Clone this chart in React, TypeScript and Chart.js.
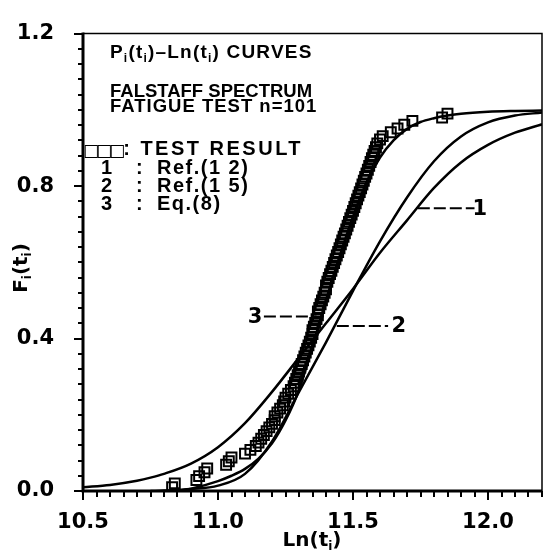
import React, { useEffect, useRef } from 'react';
import { Chart, registerables } from 'chart.js';

Chart.register(...registerables);

// ---- data ----
const testX = [
  10.83, 10.84, 10.92, 10.93, 10.95, 10.96, 11.03, 11.04, 11.05, 11.10,
  11.12, 11.14, 11.15, 11.16, 11.17, 11.18, 11.19, 11.20, 11.21, 11.21,
  11.22, 11.23, 11.24, 11.245, 11.25, 11.26, 11.27, 11.28, 11.285, 11.29,
  11.295, 11.30, 11.305, 11.31, 11.315, 11.32, 11.325, 11.33, 11.335, 11.34,
  11.345, 11.35, 11.35, 11.355, 11.36, 11.365, 11.37, 11.37, 11.375, 11.38,
  11.385, 11.39, 11.395, 11.40, 11.40, 11.405, 11.41, 11.415, 11.42, 11.425,
  11.43, 11.435, 11.44, 11.445, 11.45, 11.455, 11.46, 11.465, 11.47, 11.475,
  11.48, 11.485, 11.49, 11.495, 11.50, 11.505, 11.51, 11.515, 11.52, 11.525,
  11.53, 11.535, 11.54, 11.545, 11.55, 11.555, 11.56, 11.565, 11.57, 11.575,
  11.58, 11.585, 11.59, 11.60, 11.61, 11.64, 11.665, 11.69, 11.72, 11.83, 11.85,
];
const testY = [
  0.010, 0.020, 0.029, 0.039, 0.049, 0.059, 0.069, 0.078, 0.088, 0.098,
  0.108, 0.118, 0.127, 0.137, 0.147, 0.157, 0.167, 0.176, 0.186, 0.196,
  0.206, 0.216, 0.225, 0.235, 0.245, 0.255, 0.265, 0.275, 0.284, 0.294,
  0.304, 0.314, 0.324, 0.333, 0.343, 0.353, 0.363, 0.373, 0.382, 0.392,
  0.402, 0.412, 0.422, 0.431, 0.441, 0.451, 0.461, 0.471, 0.480, 0.490,
  0.500, 0.510, 0.520, 0.529, 0.539, 0.549, 0.559, 0.569, 0.578, 0.588,
  0.598, 0.608, 0.618, 0.627, 0.637, 0.647, 0.657, 0.667, 0.676, 0.686,
  0.696, 0.706, 0.716, 0.725, 0.735, 0.745, 0.755, 0.765, 0.775, 0.784,
  0.794, 0.804, 0.814, 0.824, 0.833, 0.843, 0.853, 0.863, 0.873, 0.882,
  0.892, 0.902, 0.912, 0.922, 0.931, 0.941, 0.951, 0.961, 0.971, 0.980, 0.990,
];

// curve 1 : Ref.(12)
const curve1X = [10.5, 10.6, 10.7, 10.75, 10.8, 10.9, 11.0, 11.1, 11.2, 11.3, 11.4, 11.5, 11.6, 11.7, 11.8, 11.9, 12.0, 12.1, 12.2];
const curve1Y = [0.010, 0.016, 0.027, 0.035, 0.045, 0.072, 0.115, 0.178, 0.26, 0.35, 0.44, 0.53, 0.625, 0.71, 0.795, 0.862, 0.908, 0.94, 0.962];
// curve 2 : Ref.(15)
const curve2X = [10.75, 10.8, 10.9, 11.0, 11.1, 11.2, 11.3, 11.4, 11.5, 11.6, 11.7, 11.8, 11.9, 12.0, 12.1, 12.2];
const curve2Y = [0.0, 0.001, 0.005, 0.014, 0.045, 0.13, 0.26, 0.39, 0.525, 0.655, 0.77, 0.865, 0.93, 0.967, 0.985, 0.993];
// curve 3 : Eq.(8)
const curve3X = [10.85, 10.9, 11.0, 11.05, 11.1, 11.15, 11.2, 11.25, 11.3, 11.35, 11.4, 11.45, 11.5, 11.55, 11.6, 11.65, 11.7, 11.75, 11.8, 11.85, 11.9, 12.0, 12.1, 12.2];
const curve3Y = [0.0, 0.006, 0.026, 0.04, 0.058, 0.085, 0.125, 0.185, 0.265, 0.38, 0.5, 0.615, 0.72, 0.81, 0.875, 0.92, 0.95, 0.968, 0.978, 0.985, 0.99, 0.995, 0.997, 0.998];

const xTickValues = [10.5, 11.0, 11.5, 12.0];
const xTickLabels = ['10.5', '11.0', '11.5', '12.0'];
const yTickValues = [0.0, 0.4, 0.8, 1.2];
const yTickLabels = ['0.0', '0.4', '0.8', '1.2'];

// curve call-out labels ("---1" etc.), in data units
const calloutText = ['1', '2', '3'];
const calloutY = [0.742, 0.433, 0.458];
const calloutFrom = [11.74, 11.44, 11.17];
const calloutTo = [11.95, 11.63, 11.365];
const calloutTextX = [11.97, 11.67, 11.137];

const noteTitle = ['P', 'i', '(t', 'i', ')\u2013Ln(t', 'i', ') CURVES'];
const noteLines = ['FALSTAFF SPECTRUM', 'FATIGUE TEST n=101'];
const legendSymbol = '\u25A1\u25A1\u25A1';
const legendText = ': TEST RESULT';
const legendKeys = ['1', '2', '3'];
const legendRefs = ['Ref.(1 2)', 'Ref.(1 5)', 'Eq.(8)'];
const xTitle = ['Ln(t', 'i', ')'];
const yTitle = ['F', 'i', '(t', 'i', ')'];

function labelFor(v: number, vals: number[], labels: string[]) {
  const i = vals.findIndex((t) => Math.abs(t - v) < 1e-6);
  return i >= 0 ? labels[i] : '';
}

function drawRich(ctx: any, parts: string[], x: number, y: number, size: number, family: string, weight: string, align: 'left' | 'center', spacing = 0) {
  const main = `${weight} ${size}px ${family}`;
  const sub = `${weight} ${Math.round(size * 0.62)}px ${family}`;
  ctx.letterSpacing = `${spacing}px`;
  const widths = parts.map((p, i) => {
    ctx.font = i % 2 === 1 ? sub : main;
    return ctx.measureText(p).width;
  });
  const total = widths.reduce((a, b) => a + b, 0);
  let cx = align === 'center' ? x - total / 2 : x;
  ctx.textAlign = 'left';
  ctx.textBaseline = 'alphabetic';
  parts.forEach((p, i) => {
    const isSub = i % 2 === 1;
    ctx.font = isSub ? sub : main;
    ctx.fillText(p, cx, isSub ? y + size * 0.22 : y);
    cx += widths[i];
  });
  ctx.letterSpacing = '0px';
}

const decor = {
  id: 'decor',
  afterDatasetsDraw(chart: any) {
    const { ctx, chartArea: a, scales } = chart;
    const xs = scales.x;
    const ys = scales.y;
    ctx.save();
    ctx.strokeStyle = '#000';
    ctx.fillStyle = '#000';
    // frame
    ctx.lineWidth = 1.5;
    ctx.beginPath();
    ctx.moveTo(a.left, a.top);
    ctx.lineTo(a.right, a.top);
    ctx.lineTo(a.right, a.bottom);
    ctx.stroke();
    ctx.lineWidth = 3;
    ctx.beginPath();
    ctx.moveTo(a.left, a.top - 1);
    ctx.lineTo(a.left, a.bottom);
    ctx.lineTo(a.right, a.bottom);
    ctx.stroke();
    // ticks
    ctx.lineWidth = 2;
    ys.ticks.forEach((t: any) => {
      const py = Math.round(ys.getPixelForValue(t.value));
      const major = labelFor(t.value, yTickValues, yTickLabels) !== '';
      ctx.beginPath();
      ctx.moveTo(a.left - (major ? 9 : 5), py);
      ctx.lineTo(a.left, py);
      ctx.stroke();
    });
    xs.ticks.forEach((t: any) => {
      const px = Math.round(xs.getPixelForValue(t.value));
      const major = labelFor(t.value, xTickValues, xTickLabels) !== '';
      ctx.beginPath();
      ctx.moveTo(px, a.bottom);
      ctx.lineTo(px, a.bottom + (major ? 9 : 6));
      ctx.stroke();
    });
    // call-out numbers
    ctx.font = 'bold 21px "DejaVu Sans"';
    ctx.textAlign = 'center';
    ctx.textBaseline = 'middle';
    calloutText.forEach((s, i) => {
      ctx.fillText(s, xs.getPixelForValue(calloutTextX[i]), ys.getPixelForValue(calloutY[i]) + 1);
    });
    // notes
    const fam = '"Liberation Sans"';
    drawRich(ctx, noteTitle, 110, 58, 19, fam, 'bold', 'left', 1.2);
    ctx.textAlign = 'left';
    ctx.textBaseline = 'alphabetic';
    ctx.font = `bold 18.5px ${fam}`;
    ctx.fillText(noteLines[0], 110, 97);
    ctx.letterSpacing = '1px';
    ctx.fillText(noteLines[1], 110, 112);
    ctx.letterSpacing = '0px';
    ctx.font = 'bold 17px "DejaVu Sans"';
    ctx.letterSpacing = '-3px';
    const symW = ctx.measureText(legendSymbol).width;
    ctx.fillText(legendSymbol, 83, 156);
    ctx.letterSpacing = '0px';
    ctx.font = `bold 20px ${fam}`;
    ctx.letterSpacing = '2.5px';
    ctx.fillText(legendText, Math.max(117, 83 + symW + 1), 155);
    ctx.letterSpacing = '0px';
    const rowY = [174, 192, 210];
    legendKeys.forEach((k, i) => {
      ctx.font = `bold 20px ${fam}`;
      ctx.fillText(k, 101, rowY[i]);
      ctx.fillText(':', 136, rowY[i]);
      ctx.letterSpacing = '1.5px';
      ctx.fillText(legendRefs[i], 157, rowY[i]);
      ctx.letterSpacing = '0px';
    });
    // axis titles
    drawRich(ctx, xTitle, 312, 546, 20, '"DejaVu Sans"', 'bold', 'center');
    ctx.save();
    ctx.translate(27, 268);
    ctx.rotate(-Math.PI / 2);
    drawRich(ctx, yTitle, 0, 0, 20, '"DejaVu Sans"', 'bold', 'center');
    ctx.restore();
    ctx.restore();
  },
};

const toPts = (xs: number[], ys: number[]) => xs.map((x, i) => ({ x, y: ys[i] }));

export default function App() {
  const ref = useRef<HTMLCanvasElement>(null);
  useEffect(() => {
    const lineDs = (xs: number[], ys: number[]) => ({
      data: toPts(xs, ys),
      showLine: true,
      borderColor: '#000',
      borderWidth: 2.5,
      pointRadius: 0,
      cubicInterpolationMode: 'monotone' as const,
      fill: false,
    });
    const callouts = calloutText.map((_, i) => ({
      data: [
        { x: calloutFrom[i], y: calloutY[i] },
        { x: calloutTo[i], y: calloutY[i] },
      ],
      showLine: true,
      borderColor: '#000',
      borderWidth: 2,
      borderDash: [12, 4],
      pointRadius: 0,
    }));
    const tickFont = { family: 'DejaVu Sans', size: 21, weight: 'bold' };
    const chart = new Chart(ref.current as HTMLCanvasElement, {
      type: 'scatter',
      data: {
        datasets: [
          lineDs(curve1X, curve1Y),
          lineDs(curve2X, curve2Y),
          lineDs(curve3X, curve3Y),
          ...callouts,
          {
            data: toPts(testX, testY),
            pointStyle: 'rect',
            pointRadius: 7,
            borderColor: '#000',
            borderWidth: 2,
            backgroundColor: 'rgba(255,255,255,0)',
            showLine: false,
          },
        ] as any,
      },
      options: {
        responsive: false,
        animation: false,
        devicePixelRatio: 1,
        layout: { padding: { top: 17, right: 4, left: 0, bottom: 0 } },
        plugins: { legend: { display: false }, tooltip: { enabled: false } },
        scales: {
          x: {
            type: 'linear',
            min: 10.5,
            max: 12.2,
            afterFit: (s: any) => { s.height = 65; },
            grid: { display: false },
            border: { display: false },
            ticks: {
              stepSize: 0.05,
              autoSkip: false,
              maxRotation: 0,
              padding: 11,
              color: '#000',
              font: tickFont,
              callback: (v: any) => labelFor(Number(v), xTickValues, xTickLabels),
            },
          },
          y: {
            type: 'linear',
            min: 0,
            max: 1.2,
            afterFit: (s: any) => { s.width = 83; },
            grid: { display: false },
            border: { display: false },
            ticks: {
              stepSize: 0.04,
              autoSkip: false,
              padding: 21,
              color: '#000',
              font: tickFont,
              callback: (v: any) => labelFor(Number(v), yTickValues, yTickLabels),
            },
          },
        },
      } as any,
      plugins: [decor],
    });
    return () => chart.destroy();
  }, []);
  return (
    <div style={{ position: 'absolute', left: 0, top: 0, width: 553, height: 556, background: '#fff' }}>
      <canvas ref={ref} width={553} height={556} style={{ display: 'block' }} />
    </div>
  );
}
